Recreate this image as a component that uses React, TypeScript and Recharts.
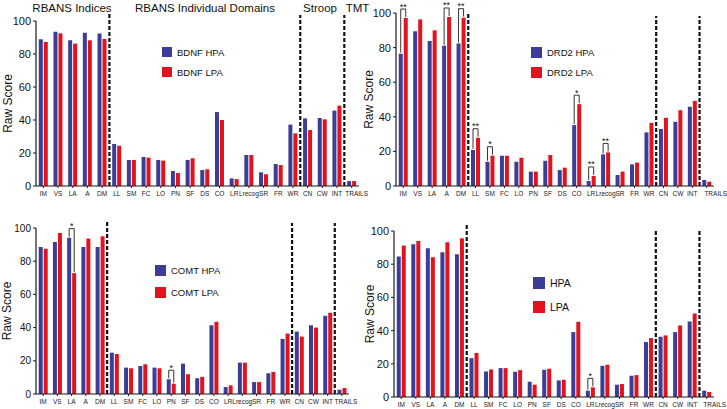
import { BarChart, Bar, XAxis, YAxis, ReferenceLine, Legend } from 'recharts'

const categories = ['IM', 'VS', 'LA', 'A', 'DM', 'LL', 'SM', 'FC', 'LO', 'PN', 'SF', 'DS', 'CO', 'LR', 'Lrecog', 'SR', 'FR', 'WR', 'CN', 'CW', 'INT', 'TRAILS']
const yTicks = [0, 20, 40, 60, 80, 100]
// where the dashed dividers sit (start of these categories)
const dividers = ['LL', 'CN', 'TRAILS']

const bdnfHpa = [88.9, 93.5, 88.3, 92.9, 92.5, 25.5, 15.8, 17.6, 15.8, 9.1, 15.8, 9.7, 44.8, 4.6, 18.8, 8.3, 13.3, 37.2, 41.0, 41.2, 45.7, 3.0]
const bdnfLpa = [87.3, 92.5, 86.3, 88.3, 89.1, 24.4, 15.8, 17.2, 15.4, 7.9, 16.8, 10.1, 40.0, 4.2, 18.8, 7.1, 12.7, 31.9, 33.9, 40.4, 48.7, 3.0]

const drd2Hpa = [76.5, 89.4, 83.8, 81.0, 82.3, 20.8, 14.0, 17.5, 14.0, 8.3, 14.6, 9.2, 35.2, 2.9, 18.3, 6.3, 12.5, 31.0, 33.0, 37.1, 45.8, 3.5]
const drd2Lpa = [97.1, 96.3, 90.0, 97.7, 97.3, 27.9, 17.5, 17.5, 16.3, 8.3, 17.9, 10.6, 47.3, 5.8, 19.4, 8.3, 13.5, 36.5, 39.4, 43.8, 49.2, 2.5]
const drd2Sig: Record<string, string> = { IM: '**', A: '**', DM: '**', LL: '**', SM: '*', CO: '*', LR: '**', Lrecog: '**' }

const comtHpa = [88.5, 91.6, 94.2, 88.5, 88.5, 24.9, 15.9, 16.9, 15.9, 8.9, 18.3, 9.5, 41.4, 4.2, 18.9, 7.2, 12.5, 33.2, 37.6, 41.4, 47.1, 2.6]
const comtLpa = [87.5, 97.0, 72.8, 93.6, 95.0, 24.1, 15.5, 17.9, 15.5, 6.2, 11.9, 10.3, 43.5, 5.2, 18.9, 7.2, 13.3, 36.4, 34.6, 40.0, 48.9, 3.6]
const comtSig: Record<string, string> = { LA: '*', PN: '*' }

const allHpa = [84.6, 92.0, 89.6, 87.2, 86.0, 23.4, 15.4, 17.4, 15.2, 9.2, 16.4, 10.0, 39.1, 3.8, 18.8, 7.4, 12.8, 33.1, 36.3, 39.1, 45.5, 3.8]
const allLpa = [91.2, 94.0, 84.2, 93.2, 95.6, 26.5, 16.6, 17.4, 16.2, 7.4, 17.0, 10.4, 45.3, 5.8, 19.4, 7.8, 13.2, 35.5, 37.1, 43.1, 50.3, 3.0]
const allSig: Record<string, string> = { LR: '*' }

const sections = [
  { label: 'RBANS Indices', left: 22, width: 100 },
  { label: 'RBANS Individual Domains', left: 130, width: 150 },
  { label: 'Stroop', left: 300, width: 40 },
  { label: 'TMT', left: 345, width: 25 },
]

const BLUE = '#3b3e97'
const RED = '#e3131e'
const AXIS = '#1a1a1a'

const makeRows = (hpa: number[], lpa: number[], sig: Record<string, string>) =>
  categories.map((name, i) => ({ name, hpa: hpa[i], lpa: lpa[i], sig: sig[name] || '' }))

// red bar + significance bracket back to the blue bar next to it
function LpaShape(props: any) {
  const { x, y, width, height, fill, payload } = props
  const rect = <rect x={x} y={y} width={width} height={height} fill={fill} />
  if (!payload || !payload.sig) return rect
  const base = y + height
  const blueTop = base - (height * payload.hpa) / payload.lpa
  const bx = x - 1 - width / 2
  const rx = x + width / 2
  const hy = Math.min(blueTop, y) - 9
  return (
    <g>
      {rect}
      <path d={`M${bx},${blueTop - 1}V${hy}H${rx}V${y - 1}`} stroke="#333" strokeWidth={1} fill="none" />
      <text x={(bx + rx) / 2} y={hy + 0.5} textAnchor="middle" fontSize={9} fill="#111">
        {payload.sig}
      </text>
    </g>
  )
}

interface PanelProps {
  left: number
  top: number
  width: number
  height: number
  margin: { top: number; right: number; bottom: number; left: number }
  yWidth: number
  xHeight: number
  data: any[]
  names: [string, string]
  lineTops: number[]
  legend: { left: number; top: number; size: number; step: number; font: number }
  tickFont: number
  labelX: number
  trailsDx: number
}

function Panel(p: PanelProps) {
  const LegendBox = (lp: any) => (
    <div>
      {(lp.payload || []).map((entry: any) => (
        <div key={entry.value} style={{ display: 'flex', alignItems: 'center', height: p.legend.step }}>
          <span style={{ width: p.legend.size, height: p.legend.size, background: entry.color, display: 'inline-block', marginRight: 5 }} />
          <span style={{ fontSize: p.legend.font, color: '#111' }}>{entry.value}</span>
        </div>
      ))}
    </div>
  )
  const XTick = (tp: any) => {
    const { x, y, payload } = tp
    const dx = payload.value === 'TRAILS' ? p.trailsDx : 0
    return (
      <text x={x + dx} y={y} dy="0.71em" textAnchor="middle" fontSize={6.5} fill="#222">
        {payload.value}
      </text>
    )
  }
  return (
    <div style={{ position: 'absolute', left: p.left, top: p.top }}>
      <BarChart width={p.width} height={p.height} data={p.data} margin={p.margin} barCategoryGap="19%" barGap={1}>
        <XAxis
          dataKey="name"
          interval={0}
          height={p.xHeight}
          tickSize={2}
          tickMargin={3}
          tick={XTick}
          axisLine={{ stroke: AXIS, strokeWidth: 1.2 }}
          tickLine={{ stroke: AXIS }}
        />
        <YAxis
          domain={[0, 100]}
          ticks={yTicks}
          width={p.yWidth}
          tickSize={3}
          tick={{ fontSize: p.tickFont, fill: '#111' }}
          axisLine={{ stroke: AXIS, strokeWidth: 1.2 }}
          tickLine={{ stroke: AXIS }}
          label={(lp: any) => {
            const vb = lp.viewBox || { x: 0, y: p.margin.top, height: p.height - p.margin.top - p.margin.bottom - p.xHeight }
            const cx = p.labelX
            const cy = vb.y + vb.height / 2
            return (
              <text x={cx} y={cy} transform={`rotate(-90 ${cx} ${cy})`} textAnchor="middle" dominantBaseline="central" fontSize={12} fill="#111">
                Raw Score
              </text>
            )
          }}
        />
        <Legend
          layout="vertical"
          align="center"
          verticalAlign="middle"
          wrapperStyle={{ left: p.legend.left, top: p.legend.top, width: 'auto' }}
          content={LegendBox}
        />
        <Bar dataKey="hpa" name={p.names[0]} fill={BLUE} isAnimationActive={false} />
        <Bar dataKey="lpa" name={p.names[1]} fill={RED} shape={LpaShape} isAnimationActive={false} />
        {dividers.map((cat, i) => (
          <ReferenceLine
            key={cat}
            position="start"
            segment={[{ x: cat, y: 0 }, { x: cat, y: p.lineTops[i] }]}
            ifOverflow="visible"
            stroke="#111"
            strokeWidth={2.2}
            strokeDasharray="4 2"
          />
        ))}
      </BarChart>
    </div>
  )
}

export default function App() {
  return (
    <div style={{ position: 'absolute', left: 0, top: 0, width: 727, height: 409, background: '#fff', fontFamily: '"Liberation Sans", Arial, sans-serif' }}>
      {sections.map(s => (
        <div key={s.label} style={{ position: 'absolute', left: s.left, top: 0, width: s.width, textAlign: 'center', fontSize: 11.5, color: '#111', whiteSpace: 'nowrap', lineHeight: '16px' }}>
          {s.label}
        </div>
      ))}
      <Panel
        left={0} top={0} width={375} height={205}
        margin={{ top: 21, right: 16, bottom: 5, left: 0 }}
        yWidth={36} xHeight={14}
        data={makeRows(bdnfHpa, bdnfLpa, {})}
        names={['BDNF HPA', 'BDNF LPA']}
        lineTops={[105.5, 103.6, 103.6]}
        legend={{ left: 162, top: 42, size: 10, step: 20, font: 9.5 }}
        tickFont={11} labelX={8} trailsDx={5}
      />
      <Panel
        left={360} top={0} width={367} height={205}
        margin={{ top: 13, right: 13, bottom: 5, left: 0 }}
        yWidth={36} xHeight={14}
        data={makeRows(drd2Hpa, drd2Lpa, drd2Sig)}
        names={['DRD2 HPA', 'DRD2 LPA']}
        lineTops={[100.6, 98.3, 98.3]}
        legend={{ left: 171, top: 42, size: 11, step: 20, font: 9.5 }}
        tickFont={11} labelX={9} trailsDx={9}
      />
      <Panel
        left={0} top={205} width={365} height={204}
        margin={{ top: 23, right: 16, bottom: 2, left: 0 }}
        yWidth={36} xHeight={13}
        data={makeRows(comtHpa, comtLpa, comtSig)}
        names={['COMT HPA', 'COMT LPA']}
        lineTops={[103.6, 103, 103]}
        legend={{ left: 155, top: 54, size: 11, step: 22, font: 9.5 }}
        tickFont={10} labelX={7} trailsDx={4}
      />
      <Panel
        left={360} top={205} width={367} height={204}
        margin={{ top: 26, right: 13, bottom: 1, left: 0 }}
        yWidth={34} xHeight={11}
        data={makeRows(allHpa, allLpa, allSig)}
        names={['HPA', 'LPA']}
        lineTops={[104.8, 101, 101]}
        legend={{ left: 173, top: 66, size: 12, step: 24, font: 10.5 }}
        tickFont={11} labelX={10} trailsDx={8}
      />
    </div>
  )
}
